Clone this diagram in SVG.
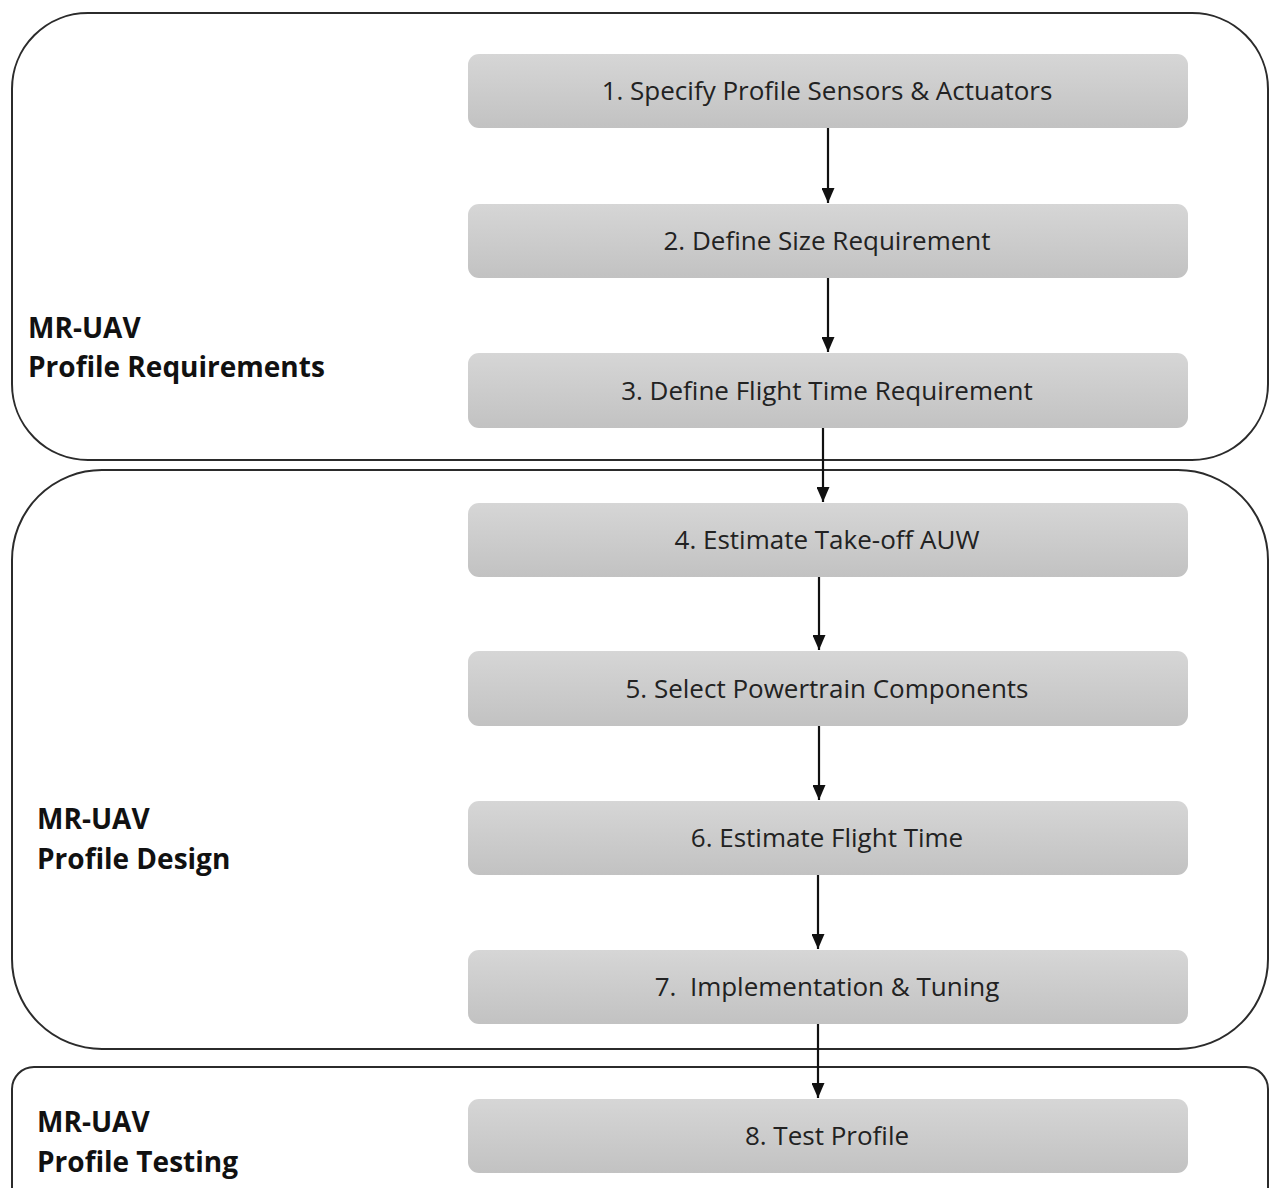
<svg xmlns="http://www.w3.org/2000/svg" width="1269" height="1188" viewBox="0 0 1269 1188">
<style>
.sec{fill:none;stroke:#2b2b2b;stroke-width:2}
.box{fill:url(#g);}
.bt{font-family:"Open Sans","Liberation Sans",Arial,sans-serif;font-size:26px;fill:#222;text-anchor:middle}
.lab{font-family:"Open Sans","Liberation Sans",Arial,sans-serif;font-size:28px;font-weight:bold;fill:#111}
.con{stroke:#111;stroke-width:2.2;fill:none;marker-end:url(#ah)}
</style>
<defs>
<linearGradient id="g" x1="0" y1="0" x2="0" y2="1">
<stop offset="0" stop-color="#d6d6d6"/>
<stop offset="1" stop-color="#c2c2c2"/>
</linearGradient>
<marker id="ah" markerWidth="15" markerHeight="13" refX="15" refY="6.5" orient="auto" markerUnits="userSpaceOnUse" viewBox="0 0 15 13">
<path d="M0,0 L15,6.5 L0,13 Z" fill="#111"/>
</marker>
</defs>
<rect width="1269" height="1188" fill="#fff"/>
<g id="section1"><rect class="sec" x="12" y="13" width="1256" height="447" rx="76" ry="76"/>
<text class="lab" x="28" y="338">MR-UAV</text><text class="lab" x="28" y="377">Profile Requirements</text></g>
<g id="section2"><rect class="sec" x="12" y="470" width="1256" height="579" rx="90" ry="90"/>
<text class="lab" x="37" y="829">MR-UAV</text><text class="lab" x="37" y="869">Profile Design</text></g>
<g id="section3"><rect class="sec" x="12" y="1067" width="1256" height="160" rx="22" ry="22"/>
<text class="lab" x="37" y="1132">MR-UAV</text><text class="lab" x="37" y="1172">Profile Testing</text></g>
<g id="n1"><rect class="box" x="468" y="54" width="720" height="74" rx="11"/><text class="bt" x="827" y="100">1. Specify Profile Sensors &amp; Actuators</text></g>
<g id="n2"><rect class="box" x="468" y="204" width="720" height="74" rx="11"/><text class="bt" x="827" y="250">2. Define Size Requirement</text></g>
<g id="n3"><rect class="box" x="468" y="353" width="720" height="75" rx="11"/><text class="bt" x="827" y="400">3. Define Flight Time Requirement</text></g>
<g id="n4"><rect class="box" x="468" y="503" width="720" height="74" rx="11"/><text class="bt" x="827" y="549">4. Estimate Take-off AUW</text></g>
<g id="n5"><rect class="box" x="468" y="651" width="720" height="75" rx="11"/><text class="bt" x="827" y="698">5. Select Powertrain Components</text></g>
<g id="n6"><rect class="box" x="468" y="801" width="720" height="74" rx="11"/><text class="bt" x="827" y="847">6. Estimate Flight Time</text></g>
<g id="n7"><rect class="box" x="468" y="950" width="720" height="74" rx="11"/><text class="bt" x="827" y="996" xml:space="preserve">7.  Implementation &amp; Tuning</text></g>
<g id="n8"><rect class="box" x="468" y="1099" width="720" height="74" rx="11"/><text class="bt" x="827" y="1145">8. Test Profile</text></g>
<g id="connectors">
<path class="con" d="M828,128 V203"/>
<path class="con" d="M828,278 V352"/>
<path class="con" d="M823,428 V502"/>
<path class="con" d="M819,577 V650"/>
<path class="con" d="M819,726 V800"/>
<path class="con" d="M818,875 V949"/>
<path class="con" d="M818,1024 V1098"/>
</g>
</svg>
